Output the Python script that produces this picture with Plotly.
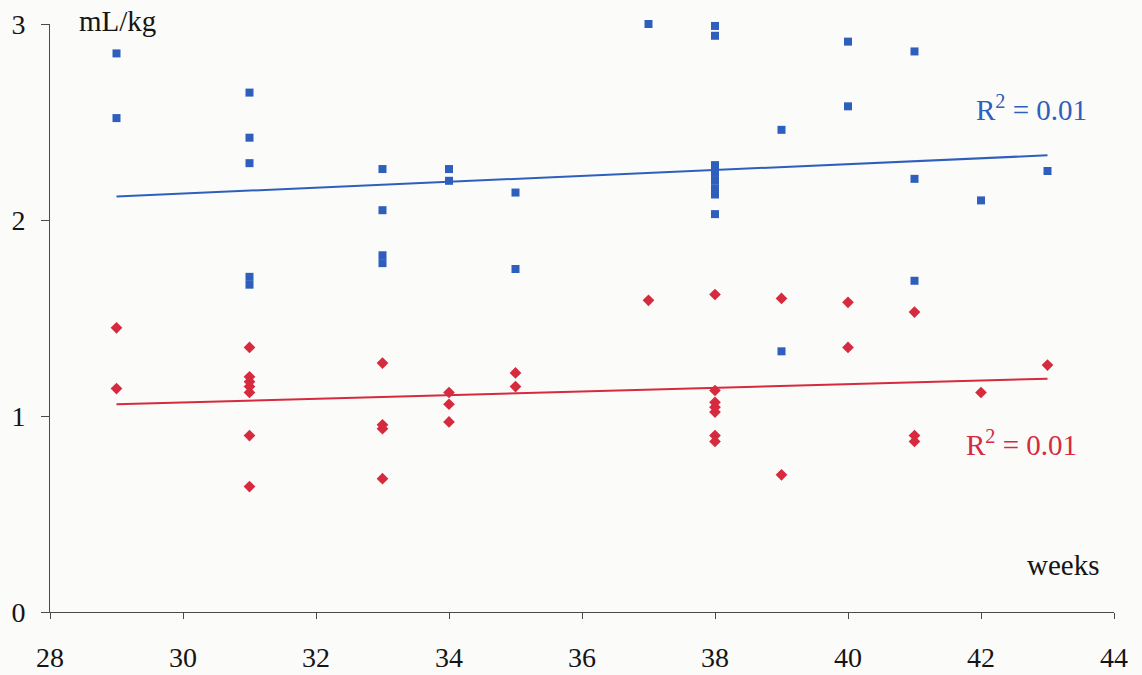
import plotly.graph_objects as go

# Right ventricular volume per kg against gestational age (weeks)
edv_weeks = [29, 29, 31, 31, 31, 31, 31, 33, 33, 33, 33, 34, 34, 35, 35, 37,
             38, 38, 38, 38, 38, 38, 38, 38, 39, 39, 40, 40, 41, 41, 41, 42, 43]
edv_values = [2.85, 2.52, 2.65, 2.42, 2.29, 1.71, 1.67, 2.26, 2.05, 1.82, 1.78,
              2.26, 2.20, 2.14, 1.75, 3.00, 2.99, 2.94, 2.28, 2.24, 2.20, 2.16,
              2.13, 2.03, 2.46, 1.33, 2.91, 2.58, 2.86, 2.21, 1.69, 2.10, 2.25]

esv_weeks = [29, 29, 31, 31, 31, 31, 31, 31, 31, 33, 33, 33, 33, 34, 34, 34,
             35, 35, 37, 38, 38, 38, 38, 38, 38, 38, 39, 39, 40, 40, 41, 41, 41,
             42, 43]
esv_values = [1.45, 1.14, 1.35, 1.20, 1.175, 1.15, 1.12, 0.90, 0.64, 1.27, 0.955,
              0.935, 0.68, 1.12, 1.06, 0.97, 1.22, 1.15, 1.59, 1.62, 1.13, 1.07,
              1.045, 1.02, 0.90, 0.87, 1.60, 0.70, 1.58, 1.35, 1.53, 0.90, 0.87,
              1.12, 1.26]

# Linear trend lines (end points of the fitted lines)
trend_weeks = [29, 43]
edv_trend = [2.12, 2.33]
esv_trend = [1.06, 1.19]
edv_r2 = 0.01
esv_r2 = 0.01

x_ticks = [28, 30, 32, 34, 36, 38, 40, 42, 44]
y_ticks = [0, 1, 2, 3]

BLUE = "#2f5fbd"
RED = "#d62a3e"
INK = "#151515"
AXIS = "#4a4a4a"
SERIF = "Liberation Serif, Times New Roman, serif"
W, H = 1142, 675

fig = go.Figure()

fig.add_trace(go.Scatter(x=trend_weeks, y=edv_trend, mode="lines",
                         line=dict(color=BLUE, width=2), hoverinfo="skip"))
fig.add_trace(go.Scatter(x=trend_weeks, y=esv_trend, mode="lines",
                         line=dict(color=RED, width=2), hoverinfo="skip"))
fig.add_trace(go.Scatter(x=edv_weeks, y=edv_values, mode="markers",
                         cliponaxis=False,
                         marker=dict(symbol="square", size=8, color=BLUE)))
fig.add_trace(go.Scatter(x=esv_weeks, y=esv_values, mode="markers",
                         cliponaxis=False,
                         marker=dict(symbol="diamond", size=9, color=RED)))

annotations = [
    dict(text="mL/kg", x=0.0254, y=1.005, xref="paper", yref="paper",
         xanchor="left", yanchor="middle", showarrow=False,
         font=dict(family=SERIF, size=29, color=INK)),
    dict(text="weeks", x=43.8, y=0.24, xref="x", yref="y", xanchor="right",
         yanchor="middle", showarrow=False,
         font=dict(family=SERIF, size=29, color=INK)),
    dict(text=f"R<sup>2</sup> = {edv_r2:.2f}", x=41.9, y=2.57, xref="x", yref="y",
         xanchor="left", yanchor="middle", showarrow=False,
         font=dict(family=SERIF, size=29, color=BLUE)),
    dict(text=f"R<sup>2</sup> = {esv_r2:.2f}", x=41.75, y=0.86, xref="x", yref="y",
         xanchor="left", yanchor="middle", showarrow=False,
         font=dict(family=SERIF, size=29, color=RED)),
]

fig.update_layout(
    width=W, height=H,
    margin=dict(l=50, r=28, t=24, b=63),
    paper_bgcolor="#fbfbf9", plot_bgcolor="rgba(0,0,0,0)",
    showlegend=False,
    annotations=annotations,
)
fig.update_xaxes(
    range=[28, 44], tickvals=x_ticks, ticktext=[str(t) for t in x_ticks],
    showgrid=False, zeroline=False, showline=True, linecolor=AXIS,
    linewidth=1, ticks="outside", ticklen=6, tickcolor=AXIS,
    ticklabelstandoff=14, automargin=False,
    tickfont=dict(family=SERIF, size=28, color=INK),
)
fig.update_yaxes(
    range=[0, 3], tickvals=y_ticks, showgrid=False, zeroline=False,
    showline=True, linecolor=AXIS, linewidth=1, ticks="outside", ticklen=8,
    tickcolor=AXIS, ticklabelstandoff=10, automargin=False,
    tickfont=dict(family=SERIF, size=28, color=INK),
)

fig.write_html("out.html")
